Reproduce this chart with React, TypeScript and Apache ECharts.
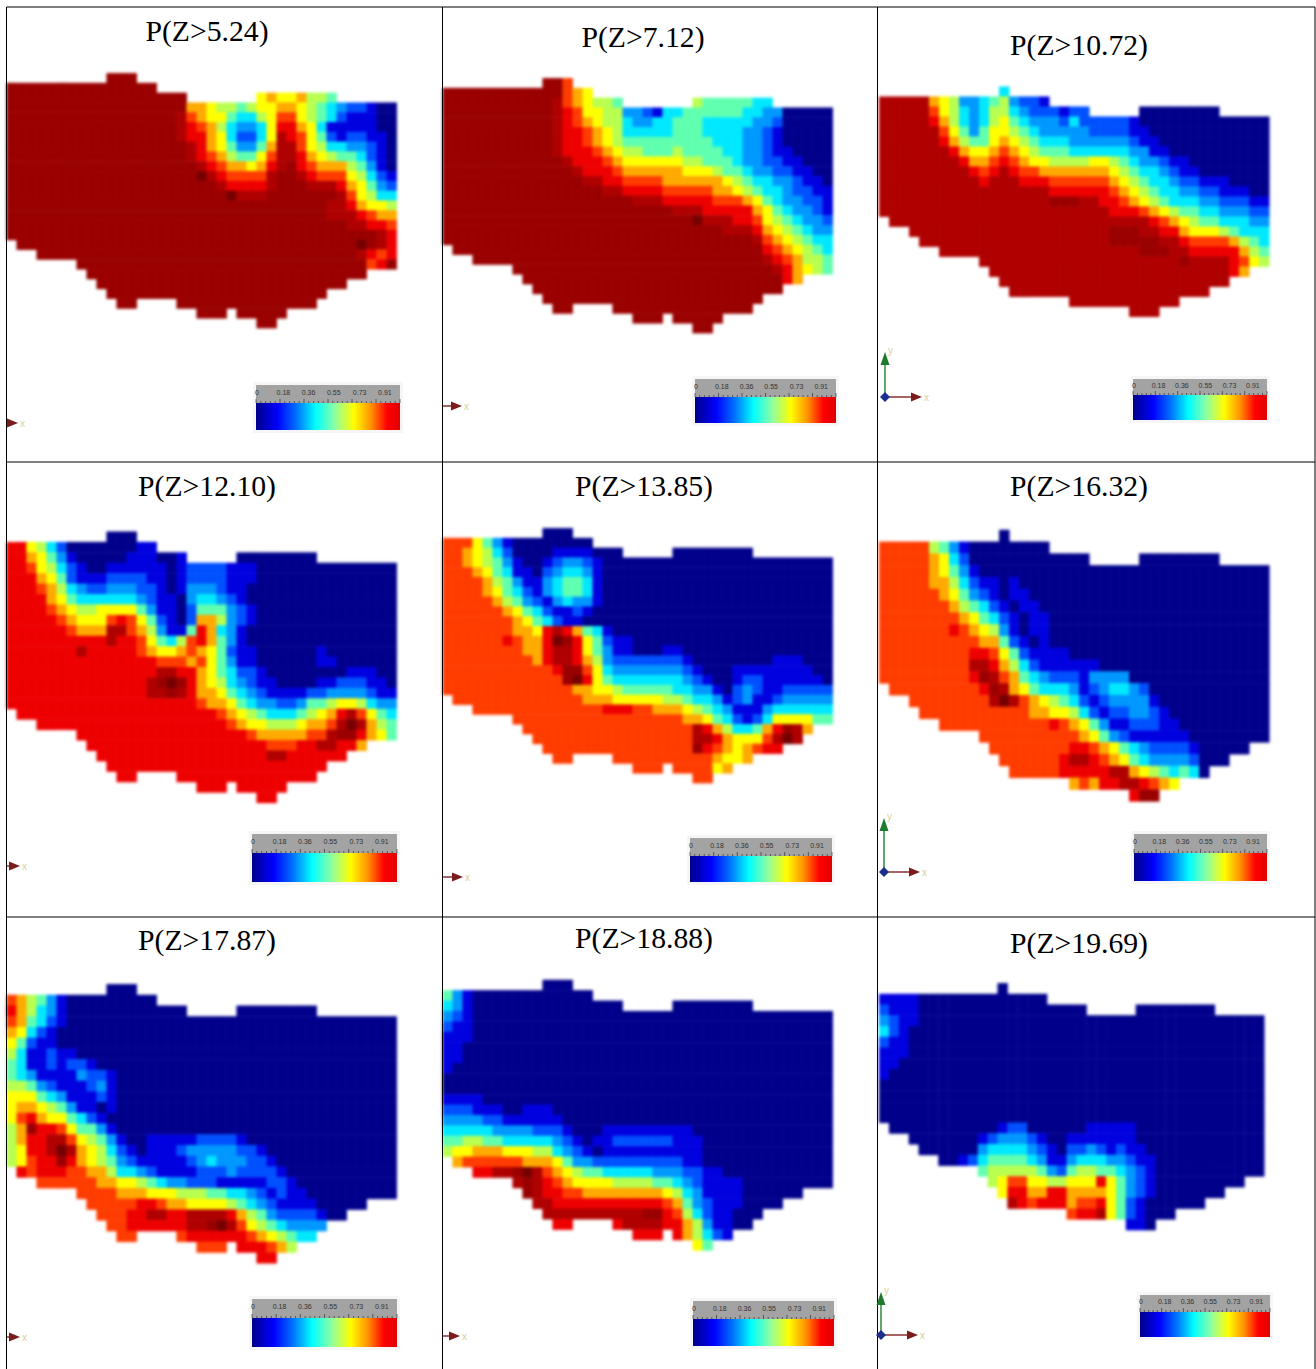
import { useEffect, useRef } from "react";
import * as echarts from "echarts";

// probability levels, low to high, one character per cell. "." = outside the field
const LEVELS = "0123456789abcd";
const LEVEL_COLORS = ["#00008b", "#0000e0", "#0050ff", "#0098ff", "#00e8ff", "#60ffb0", "#b8ff50", "#ffff00", "#ffaa00", "#ff3c00", "#ee0000", "#b00000", "#9a0000", "#760000"];

const P_5_24 = [
  ".......... ccc",
  "cccccccccc ccccc",
  "cccccccccc cccccccc.. .....78778 665",
  "cccccccccc cccccccc88 7665677887 654322100",
  "cccccccccc cccccccb98 7754467997 654211100",
  "cccccccccc cccccccba9 8643347aa8 741111100",
  "cccccccccc cccccccbaa 8742247ba9 752122110",
  "cccccccccc ccccccccba 8753358bb9 764433210",
  "cccccccccc ccccccccba 9865579bba 876554210",
  "cccccccccc cccccccccb a98878abca 988865310",
  "cccccccccc cccccccccd ba9999bccb a99976421",
  "cccccccccc cccccccccc cbaaaabccc bbba87532",
  "cccccccccc cccccccccc ccdbbbcccc cccb97644",
  "cccccccccc cccccccccc cccccccccc ccbba8776",
  "cccccccccc cccccccccc cccccccccc ccbbba988",
  "cccccccccc cccccccccc cccccccccc ccccbbaa9",
  "cccccccccc cccccccccc cccccccccc cccccccba",
  ".ccccccccc cccccccccc cccccccccc cccccdcba",
  "...ccccccc cccccccccc cccccccccc cccccba9a",
  ".......ccc cccccccccc cccccccccc cccccc9ac",
  "........cc cccccccccc cccccccccc cccccc",
  ".........c cccccccccc cccccccccc cccc",
  ".......... cccccccccc cccccccccc cc",
  ".......... .cc....ccc cccccccccc c",
  ".......... .........c cc.ccccc",
  ".......... .......... .....cc",
];

const P_7_12 = [
  ".......... cc9",
  "cccccccccc cc987",
  "cccccccccc cb987665.. .....65555 544",
  "cccccccccc cba9776633 2144555555 443300000",
  "cccccccccc cba9876643 3445554444 433200000",
  "cccccccccc cbaa987644 4445554444 332100000",
  "cccccccccc cbaa987655 5555555444 332100000",
  "cccccccccc cbaaa98766 5556555544 332110000",
  "cccccccccc ccbaaa9877 7777665554 332211000",
  "cccccccccc cccbaaa988 8888777655 433221100",
  "cccccccccc ccccbbaa99 9988888876 544332110",
  "cccccccccc ccccccbbaa aa99999887 654432211",
  "cccccccccc cccccccccb bbaaaaa999 875433221",
  "cccccccccc cccccccccc cccbbbaaaa a87543321",
  "cccccccccc cccccccccc cccccdbbba a97654332",
  "cccccccccc cccccccccc ccccccccbb ba8765433",
  "cccccccccc cccccccccc cccccccccc cb9876544",
  ".ccccccccc cccccccccc cccccccccc cca987654",
  "...ccccccc cccccccccc cccccccccc ccba98665",
  ".......ccc cccccccccc cccccccccc cccba8765",
  "........cc cccccccccc cccccccccc cccca8",
  ".........c cccccccccc cccccccccc cccc",
  ".......... cccccccccc cccccccccc cc",
  ".......... .cc....ccc cccccccccc c",
  ".......... .........c cc.ccccc",
  ".......... .......... .....cc",
];

const P_10_72 = [
  ".......... ..4",
  "bbbbb87633 4563221",
  "bbbbb97643 4664322212 2.....0000 0000",
  "bbbbba8643 4675433324 2222210000 000000000",
  "bbbbbb9753 5776543333 3222211000 000000000",
  "bbbbbba865 5787654443 3333321100 000000000",
  "bbbbbbba87 7898765554 4444433110 000000000",
  "bbbbbbbba8 89a9877666 6776543321 100000000",
  "bbbbbbbbba 9aba998888 8887654432 110000000",
  "bbbbbbbbbb abbbaaa999 9998765443 221110000",
  "bbbbbbbbbb bbbbbbbaaa aaa9876544 332211100",
  "bbbbbbbbbb bbbbbbbccc bbaa987654 443322211",
  "bbbbbbbbbb bbbbbbbbbb bbbaaa9876 554433322",
  ".bbbbbbbbb bbbbbbbbbb bbbbbbba98 765544433",
  "...bbbbbbb bbbbbbbbbb bbbcccbbaa 877765444",
  "....bbbbbb bbbbbbbbbb bbbcccccbb a99998654",
  "......bbbb bbbbbbbbbb bbbbbbcccb baaaaa865",
  ".......... bbbbbbbbbb bbbbbbbbbb cbbbba976",
  ".......... .bbbbbbbbb bbbbbbbbbb bbbbba8",
  ".......... ..bbbbbbbb bbbbbbbbbb bbbbb",
  ".......... ...bbbbbbb bbbbbbbbbb bbb",
  ".......... .........b bbbbbbbbbb",
  ".......... .......... .....bbb",
];

const P_12_10 = [
  ".......... 000",
  "aa76420000 00011",
  "aa87531000 00111001 .....00000 000",
  "aa97642100 1111110122 2211100000 000000000",
  "aaa8752111 2222110122 2211100000 000000000",
  "aaa9864322 3332210133 3211000000 000000000",
  "aaaa875444 4443211034 4321000000 000000000",
  "aaaa987667 7775311025 5532100000 000000000",
  "aaaaa98777 9a97521028 8632100000 000000000",
  "aaaaaa9888 bb9863115a 8431000000 000000000",
  "aaaaaaaaaa baa975469a 8531000000 000000000",
  "aaaaaaabaa aaa9877898 7521100000 010000000",
  "aaaaaaaaaa aaaaa99989 7531100000 011000000",
  "aaaaaaaaaa aaaaabbaa8 7542210000 000011100",
  "aaaaaaaaaa aaaabcdca8 7643211000 011222110",
  "aaaaaaaaaa aaaabbcba8 8754321111 223333211",
  "aaaaaaaaaa aaaaaaaaa9 8875433223 556776433",
  ".aaaaaaaaa aaaaaaaaaa a987654445 678ab9754",
  "...aaaaaaa aaaaaaaaaa aa98776667 889bdb865",
  ".......aaa aaaaaaaaaa aaaa988888 99bcca875",
  "........aa aaaaaaaaaa aaaaaa999a abbaa8",
  ".........a aaaaaaaaaa aaaaaabbaa aaaa",
  ".......... aaaaaaaaaa aaaaaaaaaa aa",
  ".......... .aa....aaa aaaaaaaaaa a",
  ".......... .........a aa.aaaaa",
  ".......... .......... .....aa",
];

const P_13_85 = [
  ".......... 000",
  "9997531000 00000",
  "9987642000 01111000 .....00000 000",
  "9987653100 1233210000 0000000000 000000000",
  "9998754110 2344310000 0000000000 000000000",
  "9999865311 3455410000 0000000000 000000000",
  "9999875421 3455410000 0000000000 000000000",
  "9999986532 1343310000 0000000000 000000000",
  "9999998754 2112100000 0000000000 000000000",
  "9999999875 4211000000 0000000000 000000000",
  "9999999887 aba8541000 0000000000 000000000",
  "999999a988 adca752110 0000000000 000000000",
  "9999999988 abba753110 0011000000 000000000",
  "9999999998 abba863222 2222100000 000111000",
  "9999999999 9acc974333 3333210001 111111100",
  "9999999999 99cda75444 4444321001 221111110",
  "9999999999 9998877655 5554433102 321122222",
  ".999999999 9999888777 7766544312 311233333",
  "...9999999 999999aaa9 9888765431 113444444",
  ".......999 9999999999 9999887542 124777755",
  "........99 9999999999 99999ba864 458acb8",
  ".........9 9999999999 99999bba87 779bdb",
  ".......... 9999999999 99999ca987 89aa",
  ".......... .99....999 9999999877 8",
  ".......... .........9 99.999978",
  ".......... .......... .....99",
];

const P_16_32 = [
  ".......... ..0",
  "9999965310 0000000",
  "9999987420 0000000000 0.....0000 0000",
  "9999987531 0000000000 0000000000 000000000",
  "9999988642 1101000000 0000000000 000000000",
  "9999998753 2101100000 0000000000 000000000",
  "9999999865 4210110000 0000000000 000000000",
  "9999999987 5421011000 0000000000 000000000",
  "9999999a98 7631011000 0000000000 000000000",
  "9999999999 8852101000 0000000000 000000000",
  "999999999a a975211110 0000000000 000000000",
  "999999999b ba86421111 1100000000 000000000",
  "999999999a cb98543222 1333300000 000000000",
  ".999999999 acb8754443 1234432000 000000000",
  "...9999999 9bdb987654 2123333100 000000000",
  "....999999 9999988776 4212233210 000000000",
  "......9999 9999999a98 7531122211 000000000",
  ".......... 9999999999 8753211111 100000000",
  ".......... .99999999a a987543222 2100000",
  ".......... ..999999ab ba98754333 32000",
  ".......... ...99999aa aaabb87654 540",
  ".......... .........8 98aabba987",
  ".......... .......... .....acc",
];

const P_17_87 = [
  ".......... 000",
  "9865310000 00000",
  "a864310000 00000000 .....00000 000",
  "9854210000 0000000000 0000000000 000000000",
  "8742100000 0000000000 0000000000 000000000",
  "7521100000 0000000000 0000000000 000000000",
  "6411211000 0000000000 0000000000 000000000",
  "5411212210 0000000000 0000000000 000000000",
  "5431111322 1000000000 0000000000 000000000",
  "6653211123 1000000000 0000000000 000000000",
  "7775431112 1000000000 0000000000 000000000",
  "7887653110 1000000000 0000000000 000000000",
  "79a8775421 0000000000 0000000000 000000000",
  "68caa97553 1000000000 0000000000 000000000",
  "68aabb9765 3100111112 2221000000 000000000",
  "67aabdb876 4210111233 3332210000 000000000",
  "679aaca876 5321111123 4333221000 000000000",
  ".a9aaa9988 6443211112 2232222100 000000000",
  "...9999998 8776543322 2111112210 000000000",
  ".......999 9888777666 5544321211 000000000",
  "........99 999aa98877 7765432111 100000",
  ".........9 99aabbaabb bba8653222 2100",
  ".......... 99aaaaaabb cdb9765433 33",
  ".......... .99....9aa aaaa987654 4",
  ".......... .........9 99.aaa986",
  ".......... .......... .....aa",
];

const P_18_88 = [
  ".......... 000",
  "5310000000 00000",
  "4310000000 00000000 .....00000 000",
  "3210000000 0000000000 0000000000 000000000",
  "2110000000 0000000000 0000000000 000000000",
  "1110000000 0000000000 0000000000 000000000",
  "1100000000 0000000000 0000000000 000000000",
  "1100000000 0000000000 0000000000 000000000",
  "1000000000 0000000000 0000000000 000000000",
  "0000000000 0000000000 0000000000 000000000",
  "0000000000 0000000000 0000000000 000000000",
  "1111000000 0000000000 0000000000 000000000",
  "2221110011 1000000000 0000000000 000000000",
  "3333221111 1100000000 0000000000 000000000",
  "4444433332 2210001111 1111100000 000000000",
  "5566554444 4321011222 2221110000 000000000",
  "6778887776 6432101111 1111110000 000000000",
  ".899999988 8753322222 2222110000 000000000",
  "...aabbcdb 9876554444 4333221100 000000000",
  ".......bcb a987777666 6554321111 000000000",
  "........cb aa99888888 8876431111 000000",
  ".........b baaaaaaaaa aa98532111 0000",
  ".......... bbbbbbbbbb cca9642110 00",
  ".......... .aa....abb bbaa863110 0",
  ".......... .........a aa.a864 21",
  ".......... .......... .....75",
];

const P_19_69 = [
  ".......... ..0",
  "1111000000 0000000",
  "2111000000 0000000000 0.....0000 0000",
  "3211000000 0000000000 0000000000 000000000",
  "4210000000 0000000000 0000000000 000000000",
  "2110000000 0000000000 0000000000 000000000",
  "1110000000 0000000000 0000000000 000000000",
  "1100000000 0000000000 0000000000 000000000",
  "1000000000 0000000000 0000000000 000000000",
  "0000000000 0000000000 0000000000 000000000",
  "0000000000 0000000000 0000000000 000000000",
  "0000000000 0000000000 0000000000 000000000",
  "0000000000 0000000000 0000000000 000000000",
  ".000000000 0012200000 0111110000 000000000",
  "...0000000 1233321001 1111110000 000000000",
  "....000000 3444432102 2321211000 000000000",
  "......0012 4555543113 4443321100 000000000",
  ".......... 5666665325 6655432100 000000000",
  ".......... .679977667 77a7532100 0000000",
  ".......... ..7aa88aa8 8887532100 00000",
  ".......... ...ba9aaa8 99a7521000 000",
  ".......... .........9 aab7521000",
  ".......... .......... .....110",
];

const PANEL_ROWS = [P_5_24, P_7_12, P_10_72, P_12_10, P_13_85, P_16_32, P_17_87, P_18_88, P_19_69];
const TITLES = ["P(Z>5.24)", "P(Z>7.12)", "P(Z>10.72)", "P(Z>12.10)", "P(Z>13.85)", "P(Z>16.32)", "P(Z>17.87)", "P(Z>18.88)", "P(Z>19.69)"];

// colour bar
const BAR_LABELS = ["0", "0.18", "0.36", "0.55", "0.73", "0.91"];
const BAR_LABEL_POS = [0, 0.19, 0.365, 0.54, 0.72, 0.895];
const BAR_STOPS: [number, string][] = [[0, "#00008b"], [0.15, "#0000ff"], [0.28, "#0070ff"], [0.415, "#00ffff"], [0.55, "#90ffa0"], [0.68, "#ffff00"], [0.8, "#ff9000"], [0.91, "#ff0000"], [1, "#e00000"]];

// layout: left, top, cell w, cell h
const MAP_BOX = [
  [6.7, 73.3, 10, 9.8], [442.7, 78.3, 10, 9.8], [879.3, 86.7, 10, 10],
  [6.7, 531.7, 10, 10.43], [442.7, 528.3, 10, 9.8], [879.3, 530, 10, 11.8],
  [6.7, 984.3, 10, 10.73], [442.7, 980, 10, 10.4], [879.3, 983.3, 9.87, 10.73],
];
const TITLE_POS = [[207, 31], [643, 37], [1079, 45], [207, 486], [644, 486], [1079, 486], [207, 940], [644, 938], [1079, 943]];
const BAR_BOX = [
  [256, 385, 144, 45], [695, 379, 141, 44], [1133, 379, 134, 41],
  [252, 834, 145, 48], [690, 838, 142, 44], [1134, 834, 133, 47],
  [252, 1299, 145, 48], [693, 1301, 141, 45], [1140, 1295, 130, 42],
];
// x0, x1, y of the x arrow, and top of the y arrow when it is in the frame
const TRIADS = [
  [7, 18, 423, 0], [443, 462, 406, 0], [885, 922, 397, 352],
  [7, 20, 866, 0], [443, 463, 877, 0], [884, 920, 872, 818],
  [7, 20, 1337, 0], [443, 460, 1336, 0], [881, 918, 1335, 1292],
];
const RULES_X = [6.5, 442.5, 877.5, 1315];
const RULES_Y = [7, 462, 917];

function toCells(rows: string[]) {
  const cells: number[][] = [];
  rows.forEach((row, y) => {
    row.replace(/ /g, "").split("").forEach((ch, x) => {
      if (ch !== ".") cells.push([x, y, LEVELS.indexOf(ch)]);
    });
  });
  return cells;
}

function colourBar(i: number) {
  const [x, y, w, h] = BAR_BOX[i];
  const head = Math.round(h * 0.4);
  const out: any[] = [
    { type: "rect", shape: { x: x - 3, y: y - 3, width: w + 6, height: h + 6 }, style: { fill: "#f6f6f6" } },
    { type: "rect", shape: { x, y, width: w, height: head }, style: { fill: "#a3a3a3" } },
    {
      type: "rect",
      shape: { x, y: y + head, width: w, height: h - head },
      style: { fill: new echarts.graphic.LinearGradient(0, 0, 1, 0, BAR_STOPS.map(([offset, color]) => ({ offset, color }))) },
    },
  ];
  for (let t = 0; t <= 30; t++) {
    const tx = x + (w * t) / 30;
    const len = t % 5 === 0 ? 4 : 2;
    out.push({ type: "line", shape: { x1: tx, y1: y + head - len, x2: tx, y2: y + head }, style: { stroke: "#222", lineWidth: 0.6 } });
  }
  BAR_LABELS.forEach((label, k) => {
    out.push({
      type: "text",
      x: x + w * BAR_LABEL_POS[k] + (k === 0 ? 1 : 0),
      y: y + head / 2 - 2,
      style: { text: label, fill: "#333", font: "7px 'Liberation Sans'", textAlign: "center", textVerticalAlign: "middle", align: "center", verticalAlign: "middle" },
    });
  });
  return out;
}

function triad(i: number) {
  const [x0, x1, y, top] = TRIADS[i];
  const out: any[] = [
    { type: "line", shape: { x1: x0, y1: y, x2: x1 - 8, y2: y }, style: { stroke: "#8a3030", lineWidth: 1.5 } },
    { type: "polygon", shape: { points: [[x1 - 11, y - 4.5], [x1, y], [x1 - 11, y + 4.5]] }, style: { fill: "#7a1c1c" } },
    { type: "text", x: x1 + 2, y: y - 5, style: { text: "x", fill: "#dccf96", font: "10px 'Liberation Sans'" } },
  ];
  if (top) {
    out.push(
      { type: "line", shape: { x1: x0, y1: y, x2: x0, y2: top + 10 }, style: { stroke: "#2e8b3e", lineWidth: 1.5 } },
      { type: "polygon", shape: { points: [[x0 - 4.5, top + 13], [x0, top], [x0 + 4.5, top + 13]] }, style: { fill: "#1f7a2e" } },
      { type: "polygon", shape: { points: [[x0 - 5, y], [x0, y - 5], [x0 + 5, y], [x0, y + 5]] }, style: { fill: "#1c2f8f" } },
      { type: "text", x: x0 + 3, y: top - 7, style: { text: "y", fill: "#dccf96", font: "10px 'Liberation Sans'" } },
    );
  }
  return out;
}

export default function App() {
  const mapRef = useRef<HTMLDivElement>(null);
  const ref = useRef<HTMLDivElement>(null);
  useEffect(() => {
    if (!ref.current || !mapRef.current) return;
    // the fields sit in their own layer so that the layer can be softened like the scanned original
    const maps = echarts.init(mapRef.current, undefined, { renderer: "svg" });
    const chart = echarts.init(ref.current, undefined, { renderer: "svg" });
    maps.setOption({
      animation: false,
      backgroundColor: "#fff",
      grid: PANEL_ROWS.map((rows, i) => ({
        left: MAP_BOX[i][0],
        top: MAP_BOX[i][1],
        width: MAP_BOX[i][2] * 39,
        height: MAP_BOX[i][3] * rows.length,
        show: false,
      })),
      xAxis: PANEL_ROWS.map((_, i) => ({
        type: "category",
        gridIndex: i,
        data: Array.from({ length: 39 }, (_, c) => c),
        show: false,
      })),
      yAxis: PANEL_ROWS.map((rows, i) => ({
        type: "category",
        gridIndex: i,
        inverse: true,
        data: rows.map((_, r) => r),
        show: false,
      })),
      visualMap: {
        show: false,
        type: "continuous",
        min: 0,
        max: LEVELS.length - 1,
        seriesIndex: PANEL_ROWS.map((_, i) => i),
        inRange: { color: LEVEL_COLORS },
      },
      series: PANEL_ROWS.map((rows, i) => ({
        type: "heatmap",
        name: TITLES[i],
        xAxisIndex: i,
        yAxisIndex: i,
        data: toCells(rows),
        silent: true,
        itemStyle: { borderWidth: 0 },
      })),
    });
    const rules: any[] = [
      ...RULES_X.map((x) => ({ type: "line", shape: { x1: x, y1: RULES_Y[0], x2: x, y2: 1369 }, style: { stroke: "#000", lineWidth: 1 } })),
      ...RULES_Y.map((y) => ({ type: "line", shape: { x1: RULES_X[0], y1: y, x2: RULES_X[3], y2: y }, style: { stroke: "#000", lineWidth: 1 } })),
    ];
    chart.setOption({
      animation: false,
      title: TITLES.map((text, i) => ({
        text,
        left: TITLE_POS[i][0],
        top: TITLE_POS[i][1],
        padding: 0,
        textAlign: "center",
        textVerticalAlign: "middle",
        textStyle: { fontFamily: "'Liberation Serif'", fontSize: 29.7, fontWeight: "normal", color: "#000" },
      })),
      graphic: {
        elements: [
          ...rules,
          ...TITLES.flatMap((_, i) => [...colourBar(i), ...triad(i)]),
        ].map((el) => ({ ...el, silent: true, z: 10 })),
      },
    });
    return () => {
      maps.dispose();
      chart.dispose();
    };
  }, []);
  return (
    <div style={{ position: "absolute", left: 0, top: 0, width: 1316, height: 1369, overflow: "hidden" }}>
      <div ref={mapRef} style={{ position: "absolute", left: 0, top: 0, width: 1316, height: 1369, filter: "blur(1.6px)" }} />
      <div ref={ref} style={{ position: "absolute", left: 0, top: 0, width: 1316, height: 1369 }} />
    </div>
  );
}
